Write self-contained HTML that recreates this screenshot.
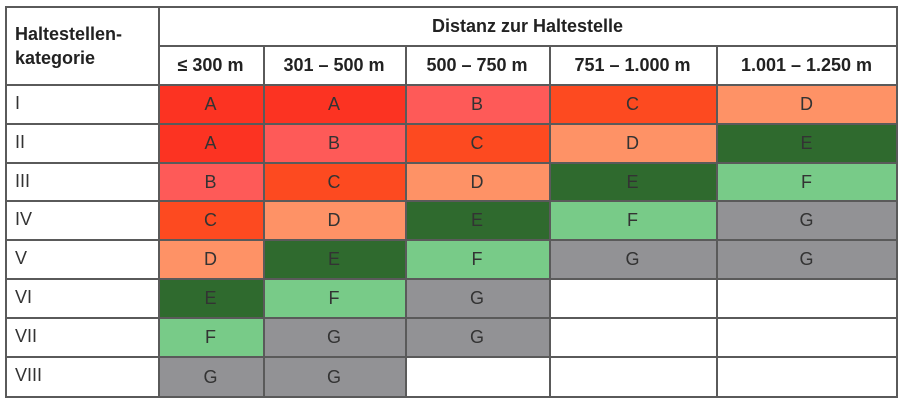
<!DOCTYPE html><html><head><style>
body{margin:0;background:#fff;width:900px;height:401px;position:relative;font-family:"Liberation Sans",sans-serif;overflow:hidden}
.c{position:absolute;box-sizing:border-box;display:flex;align-items:center;justify-content:center;font-size:18px;color:#333}
.l{position:absolute;font-size:18px;color:#333}
.h{position:absolute;font-weight:bold;font-size:18px;color:#222;display:flex;align-items:center;justify-content:center}
.A{background:#fc3322}.B{background:#fe5a58}.C{background:#fd4a20}.D{background:#fe9266}.E{background:#2f6a2e}.F{background:#78cb88}.G{background:#929295}
.vl{position:absolute;width:2px;background:#5a5a5a}.hl{position:absolute;height:2px;background:#5a5a5a}
</style></head><body>
<div id="cells"></div>
<div class="h" style="left:158px;top:7px;width:739px;height:39px">Distanz zur Haltestelle</div>
<div class="l" style="left:15px;top:22px;font-weight:bold;color:#222;line-height:24px">Haltestellen-<br>kategorie</div>
<div class="h" style="left:158px;top:46px;width:105px;height:39px">≤ 300 m</div>
<div class="h" style="left:263px;top:46px;width:142px;height:39px">301 – 500 m</div>
<div class="h" style="left:405px;top:46px;width:144px;height:39px">500 – 750 m</div>
<div class="h" style="left:549px;top:46px;width:167px;height:39px">751 – 1.000 m</div>
<div class="h" style="left:716px;top:46px;width:181px;height:39px">1.001 – 1.250 m</div>
<script>
var cols=[158,263,405,549,716,897],rows=[85,124,163,201,240,279,318,357,397];
var data=["AABCD","ABCDE","BCDEF","CDEFG","DEFGG","EFG","FGG","GG"];
var labs=["I","II","III","IV","V","VI","VII","VIII"];
var h="";
for(var r=0;r<8;r++){h+='<div class="l" style="left:15px;top:'+(rows[r]+8)+'px">'+labs[r]+'</div>';
for(var c=0;c<5;c++){var v=data[r][c];if(!v)continue;
h+='<div class="c '+v+'" style="left:'+cols[c]+'px;top:'+rows[r]+'px;width:'+(cols[c+1]-cols[c])+'px;height:'+(rows[r+1]-rows[r])+'px">'+v+'</div>';}}
[5,158,263,405,549,716,896].forEach(function(x,i){var t=(i==0||i==1||i==6)?7:46;h+='<div class="vl" style="left:'+x+'px;top:'+t+'px;height:'+(398-t)+'px"></div>';});
h+='<div class="hl" style="left:5px;top:6px;width:893px"></div>';
h+='<div class="hl" style="left:158px;top:45px;width:740px"></div>';
rows.forEach(function(y){h+='<div class="hl" style="left:5px;top:'+(y-1)+'px;width:893px"></div>';});
document.getElementById("cells").innerHTML=h;
</script>
</body></html>
